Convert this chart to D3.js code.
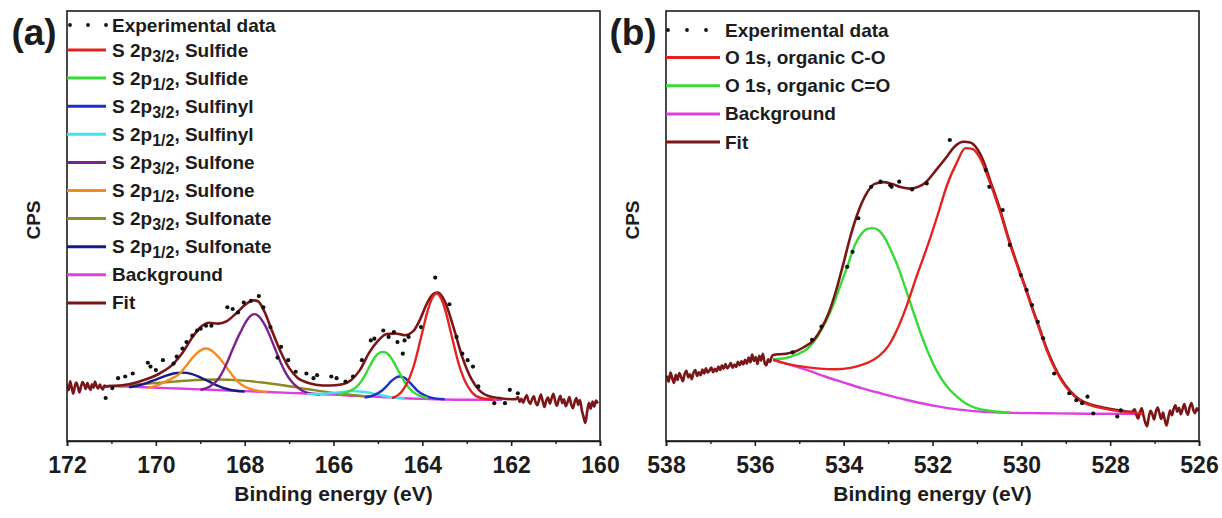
<!DOCTYPE html>
<html>
<head>
<meta charset="utf-8">
<script src="https://cdn.jsdelivr.net/npm/d3@7"></script>
<style>
	body { margin: 0; background: #fff; }
	svg text { font-family: "Liberation Sans", Arial, sans-serif; font-weight: bold; fill: #1c1c1c; }
</style>
</head>
<body>
<div id="vizHolder"></div>
<script>
// ---- panel (a): S 2p, values as [binding energy, counts (arb.)] ----
var ticksA = [172, 170, 168, 166, 164, 162, 160];
var minorA = [171, 169, 167, 165, 163, 161];

var fitA = [
	[172.0,13.1],[171.96,11.8],[171.93,13.9],[171.89,12.2],[171.86,11.0],[171.82,12.9],[171.79,13.6],[171.75,12.4],[171.72,11.3],[171.68,12.8],
	[171.65,13.7],[171.61,13.0],[171.58,12.1],[171.54,13.5],[171.51,12.6],[171.47,11.9],[171.44,13.2],[171.40,12.4],[171.37,13.8],[171.33,12.7],
	[171.30,12.2],[171.26,13.1],[171.23,12.5],[171.19,12.0],[171.16,12.9],[171.12,12.6],[171.05,12.8],[171.0,12.8],
	[170.6,13.2],[170.2,14.4],[169.9,15.8],[169.6,18.0],[169.4,20.5],[169.2,23.8],[169.0,26.4],[168.8,27.5],[168.6,27.3],[168.4,27.9],
	[168.2,29.6],[168.0,31.6],[167.8,32.7],[167.7,32.5],[167.55,30.0],[167.4,26.0],[167.2,21.0],[167.0,17.0],[166.8,14.6],[166.6,13.6],
	[166.4,13.1],[166.1,12.9],[165.8,13.2],[165.6,14.2],[165.4,16.6],[165.2,20.5],[165.0,23.3],[164.8,24.9],[164.6,25.0],[164.4,24.6],
	[164.2,25.6],[164.05,28.3],[163.9,31.9],[163.75,34.2],[163.65,34.5],[163.5,32.6],[163.3,26.5],[163.1,19.5],[162.9,14.5],[162.7,11.6],
	[162.5,10.4],[162.2,9.9],[161.9,9.7],
	[161.85,10.2],[161.81,9.1],[161.77,9.8],[161.73,8.9],[161.69,9.9],[161.65,10.6],[161.61,9.3],[161.57,8.6],[161.53,9.7],[161.49,10.4],
	[161.45,9.0],[161.41,8.3],[161.37,9.6],[161.33,10.8],[161.29,9.2],[161.25,7.9],[161.21,9.4],[161.17,10.1],[161.13,8.7],[161.09,9.9],
	[161.05,11.0],[161.01,9.3],[160.97,8.2],[160.93,9.6],[160.89,10.5],[160.85,8.8],[160.81,9.7],[160.77,8.1],[160.73,9.0],[160.69,10.2],
	[160.65,8.6],[160.61,7.6],[160.57,9.1],[160.53,10.0],[160.49,8.4],[160.45,9.5],[160.41,7.2],[160.37,5.6],[160.33,4.2],[160.29,6.8],
	[160.25,8.9],[160.21,7.5],[160.17,9.2],[160.13,8.0],[160.09,9.4],[160.05,8.7]
];
var bgA = [[171.13,12.8],[170.5,12.6],[170.0,12.4],[169.5,12.2],[169.0,12.0],[168.5,11.8],[168.0,11.6],[167.5,11.4],[167.0,11.2],[166.5,11.0],
	[166.0,10.8],[165.5,10.5],[165.0,10.3],[164.5,10.0],[164.0,9.8],[163.5,9.65],[163.0,9.6],[162.5,9.6],[162.2,9.6]];
var sulfide32 = [[164.68,10.0],[164.48,11.3],[164.28,14.9],[164.18,17.9],[164.08,21.9],[163.98,26.2],[163.88,30.3],[163.78,33.2],[163.68,34.3],
	[163.58,33.2],[163.48,30.3],[163.38,26.2],[163.28,21.9],[163.18,17.9],[163.08,14.9],[162.88,11.3],[162.68,10.0],[162.4,9.6]];
var sulfide12 = [[165.88,10.8],[165.68,11.4],[165.48,12.6],[165.38,13.8],[165.28,15.5],[165.18,17.5],[165.08,19.3],[164.98,20.4],[164.88,20.7],
	[164.78,20.3],[164.68,19.0],[164.58,17.1],[164.48,15.2],[164.38,13.4],[164.28,12.1],[164.08,10.6],[163.88,10.0]];
var sulfinyl32 = [[165.3,10.1],[165.1,10.6],[164.9,11.8],[164.8,12.8],[164.7,13.9],[164.6,14.7],[164.52,15.0],[164.42,14.8],[164.32,14.0],
	[164.22,12.9],[164.12,11.8],[163.92,10.5],[163.72,9.9],[163.5,9.7]];
var sulfinyl12 = [[166.6,10.9],[166.2,11.0],[165.9,11.3],[165.6,11.6],[165.3,11.4],[165.0,10.8],[164.7,10.2],[164.4,9.9]];
var sulfone32 = [[169.0,11.9],[168.78,12.7],[168.58,14.6],[168.48,16.4],[168.38,18.6],[168.28,21.1],[168.18,23.5],[168.08,25.6],[167.98,27.6],
	[167.88,29.0],[167.78,29.5],[167.68,29.0],[167.58,27.6],[167.48,25.6],[167.38,23.1],[167.28,20.5],[167.18,18.0],[167.08,15.9],[166.98,14.3],
	[166.78,12.2],[166.58,11.2],[166.3,10.8]];
var sulfone12 = [[170.2,12.3],[170.07,12.6],[169.87,13.4],[169.67,14.4],[169.47,15.6],[169.37,16.8],[169.27,18.1],[169.17,19.4],[169.07,20.5],
	[168.97,21.2],[168.87,21.5],[168.77,21.2],[168.67,20.4],[168.57,19.3],[168.47,18.0],[168.37,16.6],[168.27,15.2],[168.17,14.0],[168.07,13.1],
	[167.87,12.1],[167.67,11.6],[167.5,11.4]];
var sulfonate32 = [[171.1,12.8],[170.6,13.0],[170.1,13.4],[169.6,13.8],[169.1,14.2],[168.6,14.3],[168.1,14.1],[167.6,13.6],[167.1,12.9],
	[166.6,12.1],[166.1,11.3],[165.7,10.8],[165.3,10.4]];
var sulfonate12 = [[170.6,12.5],[170.4,12.9],[170.2,13.5],[170.0,14.3],[169.8,15.1],[169.6,15.7],[169.4,15.9],[169.2,15.6],[169.0,14.8],
	[168.8,13.8],[168.6,12.8],[168.4,12.1],[168.2,11.7],[168.0,11.5]];
var expA = [[171.13,10.0],[170.98,12.3],[170.85,14.6],[170.69,15.0],[170.52,15.7],[170.18,18.2],[170.12,17.3],[170.0,16.5],[169.84,18.8],
	[169.6,18.0],[169.53,19.6],[169.4,21.5],[169.31,23.0],[169.18,24.5],[169.07,25.7],[168.99,26.1],[168.87,26.8],[168.75,26.8],[168.39,31.1],
	[168.27,30.7],[168.15,29.9],[168.02,32.2],[167.86,32.6],[167.68,33.7],[167.58,31.1],[167.42,26.5],[167.26,19.4],[167.18,21.9],[167.02,18.8],
	[166.85,16.1],[166.61,15.7],[166.45,14.6],[166.37,15.3],[166.05,15.0],[165.93,14.6],[165.73,13.8],[165.56,15.0],[165.36,18.8],[165.16,23.4],
	[165.08,23.8],[164.88,25.7],[164.76,24.2],[164.64,25.3],[164.56,23.0],[164.44,20.3],[164.4,23.4],[164.31,24.2],[164.03,26.5],[163.71,38.0],
	[163.39,31.8],[163.23,24.2],[163.1,20.3],[162.98,18.8],[162.86,17.3],[162.74,12.7],[162.38,8.8],[162.14,8.8],[162.03,11.9],[161.85,11.1]];

// ---- panel (b): O 1s ----
var ticksB = [538, 536, 534, 532, 530, 528, 526];
var minorB = [537, 535, 533, 531, 529, 527];

var fitB = [
	[537.98,15.2],[537.94,13.8],[537.9,15.9],[537.86,14.6],[537.82,13.5],[537.78,15.4],[537.74,14.2],[537.7,15.8],[537.66,14.9],[537.62,13.9],
	[537.58,15.6],[537.54,16.3],[537.5,14.8],[537.46,15.5],[537.42,14.4],[537.38,15.9],[537.34,16.5],[537.3,15.1],[537.26,16.0],[537.22,15.3],
	[537.18,16.6],[537.14,15.7],[537.1,16.9],[537.06,15.9],[537.02,16.4],[536.98,17.1],[536.94,16.0],[536.9,16.8],[536.86,16.2],[536.82,17.3],
	[536.78,16.5],[536.74,17.6],[536.7,16.8],[536.66,17.9],[536.62,16.9],[536.58,17.4],[536.54,18.1],[536.5,17.0],[536.46,17.8],[536.42,17.2],
	[536.38,18.4],[536.34,17.6],[536.3,18.6],[536.26,17.8],[536.22,18.9],[536.18,18.0],[536.14,19.4],[536.1,18.3],[536.06,20.1],[536.02,18.6],
	[535.98,19.5],[535.94,17.9],[535.9,19.8],[535.86,18.7],[535.82,20.3],[535.78,18.2],[535.74,17.6],[535.7,19.0],[535.66,18.4],[535.62,19.6],
	[535.59,20.0],[535.3,20.3],[535.09,20.8],[534.9,21.8],[534.67,23.5],[534.5,26.2],[534.34,29.7],[534.17,35.0],[534.0,41.5],[533.85,47.5],
	[533.7,52.5],[533.5,57.3],[533.3,59.8],[533.1,60.2],[532.92,59.8],[532.7,59.0],[532.5,58.7],[532.3,59.2],[532.17,60.0],[531.92,63.0],
	[531.7,65.8],[531.5,68.5],[531.3,69.6],[531.15,69.4],[531.0,68.0],[530.85,65.0],[530.7,60.5],[530.5,54.5],[530.3,47.5],[530.1,41.3],
	[529.9,35.5],[529.76,31.2],[529.6,26.5],[529.42,21.2],[529.25,17.2],[529.09,14.2],[528.9,11.6],[528.67,9.5],[528.4,8.4],[528.17,7.8],
	[527.85,7.2],[527.51,6.8],
	[527.45,7.4],[527.41,6.1],[527.37,5.2],[527.33,6.7],[527.29,7.6],[527.25,5.9],[527.21,4.3],[527.17,3.4],[527.13,5.6],[527.09,7.0],
	[527.05,6.2],[527.01,5.0],[526.97,6.9],[526.93,7.8],[526.89,6.4],[526.85,5.1],[526.81,6.6],[526.77,4.9],[526.73,3.6],[526.69,5.5],
	[526.65,7.1],[526.61,6.0],[526.57,7.5],[526.53,8.3],[526.49,6.8],[526.45,7.7],[526.41,6.2],[526.37,7.4],[526.33,8.6],[526.29,7.0],
	[526.25,6.1],[526.21,7.9],[526.17,8.8],[526.13,7.3],[526.09,6.5],[526.05,7.6],[526.01,6.9]
];
var bgB = [[535.59,18.8],[535.2,17.7],[534.8,16.4],[534.42,15.0],[534.0,13.6],[533.6,12.3],[533.17,11.1],[532.6,9.6],[531.92,8.1],
	[531.4,7.3],[530.84,6.8],[530.2,6.55],[529.5,6.45],[528.5,6.35],[527.26,6.3]];
var organicCO = [[535.59,18.9],[535.3,18.0],[535.0,17.4],[534.6,16.9],[534.17,16.7],[533.85,17.0],[533.59,17.7],[533.4,18.5],[533.2,19.8],
	[533.0,22.0],[532.8,25.8],[532.59,31.2],[532.35,38.5],[532.09,46.0],[531.87,53.0],[531.67,59.6],[531.45,64.8],[531.26,68.1],[531.1,67.9],[530.92,65.6],
	[530.75,61.3],[530.5,54.0],[530.3,47.2],[530.1,41.0],[529.9,35.2],[529.76,30.9],[529.6,26.2],[529.42,20.9],[529.25,16.9],[529.09,14.0],
	[528.9,11.4],[528.67,9.3],[528.4,8.2],[528.17,7.6],[527.85,7.0],[527.51,6.6],[527.26,6.4]];
var organicCdO = [[535.59,19.0],[535.3,19.3],[535.09,20.0],[534.8,21.6],[534.59,24.3],[534.4,27.8],[534.25,31.2],[534.08,36.0],[533.92,40.5],
	[533.75,45.5],[533.59,48.3],[533.45,49.4],[533.34,49.5],[533.2,48.9],[533.09,47.5],[532.92,44.0],[532.75,39.8],[532.58,34.6],[532.42,29.7],
	[532.25,24.6],[532.09,20.4],[531.9,16.2],[531.67,12.6],[531.45,10.3],[531.26,8.8],[531.0,7.6],[530.76,7.1],[530.5,6.8],[530.26,6.6]];
var expB = [[535.15,20.6],[534.71,23.5],[534.5,26.6],[533.92,40.5],[533.8,44.0],[533.67,51.8],[533.38,59.1],[533.17,60.3],[532.95,59.5],
	[532.92,59.1],[532.75,60.3],[532.46,58.5],[532.13,59.9],[531.61,70.0],[530.8,63.0],[530.72,59.1],[530.42,53.7],[530.26,45.6],[530.01,38.6],
	[529.88,35.1],[529.76,31.6],[529.63,27.7],[529.51,23.9],[529.26,15.7],[528.92,11.1],[528.76,9.5],[528.63,8.8],[528.51,10.3],[528.38,6.4],
	[527.84,5.7],[527.76,7.1]];

var width = 1222, height = 518, plotTop = 11, plotBottom = 441;
var colors = {
	fit: '#7a1518', red: '#e3231f', green: '#35dc35', blue: '#1f2dcc', cyan: '#3ee3ef',
	purple: '#7a2290', orange: '#f28c1e', olive: '#8c8a22', navy: '#181a86', magenta: '#df3fe0'
};

var svg = d3.select('#vizHolder').append('svg')
	.attr('width', width)
	.attr('height', height);

function drawPanel(p) {
	var xScale = d3.scaleLinear().domain(p.domain).range([p.left, p.right]);
	var yScale = d3.scaleLinear().domain([0, 100]).range([plotBottom, plotTop]);
	var g = svg.append('g');

	var clipId = 'clip' + p.id;
	g.append('clipPath').attr('id', clipId).append('rect')
		.attr('x', p.left).attr('y', plotTop).attr('width', p.right - p.left).attr('height', plotBottom - plotTop);

	var line = d3.line()
		.x(function(d) { return xScale(d[0]); })
		.y(function(d) { return yScale(d[1]); })
		.curve(d3.curveMonotoneX);

	var plot = g.append('g').attr('clip-path', 'url(#' + clipId + ')');
	p.series.forEach(function(s) {
		plot.append('path')
			.attr('d', line(s.data))
			.attr('fill', 'none')
			.attr('stroke', s.color)
			.attr('stroke-width', s.w || 2.4)
			.attr('stroke-linejoin', 'round');
	});
	plot.selectAll('circle.exp')
		.data(p.dots)
		.enter()
		.append('circle')
		.attr('class', 'exp')
		.attr('r', 2.1)
		.attr('cx', function(d) { return xScale(d[0]); })
		.attr('cy', function(d) { return yScale(d[1]); })
		.attr('fill', '#111');

	// frame
	g.append('rect')
		.attr('x', p.left).attr('y', plotTop)
		.attr('width', p.right - p.left).attr('height', plotBottom - plotTop)
		.attr('fill', 'none').attr('stroke', '#1c1c1c').attr('stroke-width', 1.6);

	// x axis, major + minor ticks
	var ax = g.append('g')
		.attr('transform', 'translate(0,' + plotBottom + ')')
		.call(d3.axisBottom(xScale).tickValues(p.ticks).tickSize(5).tickPadding(11).tickFormat(d3.format('d')));
	ax.select('.domain').attr('stroke', '#1c1c1c').attr('stroke-width', 1.6);
	ax.selectAll('.tick line').attr('stroke', '#1c1c1c').attr('stroke-width', 1.6);
	ax.selectAll('.tick text').attr('font-size', 23).attr('fill', '#1c1c1c')
		.style('font-family', '"Liberation Sans", Arial, sans-serif').style('font-weight', 'bold');
	g.append('g').attr('transform', 'translate(0,' + plotBottom + ')')
		.call(d3.axisBottom(xScale).tickValues(p.minor).tickSize(3).tickFormat(''))
		.call(function(s) { s.select('.domain').remove(); })
		.selectAll('.tick line').attr('stroke', '#1c1c1c').attr('stroke-width', 1.4);

	g.append('text')
		.attr('x', (p.left + p.right) / 2).attr('y', 501)
		.attr('text-anchor', 'middle').attr('font-size', 21)
		.text('Binding energy (eV)');

	g.append('text')
		.attr('transform', 'translate(' + (p.left - 27) + ',' + 220 + ') rotate(-90)')
		.attr('text-anchor', 'middle').attr('font-size', 19)
		.text('CPS');

	g.append('text')
		.attr('x', p.left - 33).attr('y', 45)
		.attr('text-anchor', 'middle').attr('font-size', 37)
		.text(p.label);

	// legend
	var lg = g.append('g');
	p.dotX.forEach(function(dx) {
		lg.append('circle').attr('cx', dx).attr('cy', p.legendY[0]).attr('r', 1.9).attr('fill', '#111');
	});
	p.legend.forEach(function(item, i) {
		var cy = p.legendY[i];
		if (item.color) {
			lg.append('line')
				.attr('x1', p.left).attr('x2', p.lineEnd)
				.attr('y1', cy).attr('y2', cy)
				.attr('stroke', item.color).attr('stroke-width', 3);
		}
		var t = lg.append('text').attr('x', p.textX).attr('y', cy + 6.5).attr('font-size', 19);
		if (item.sub) {
			t.append('tspan').text(item.pre);
			t.append('tspan').attr('font-size', 16).attr('dy', 5).text(item.sub);
			t.append('tspan').attr('dy', -5).text(item.post);
		} else {
			t.text(item.text);
		}
	});
}

var rowsA = [25];
for (var i = 0; i < 10; i++) rowsA.push(50 + 28.1 * i);
var rowsB = [30];
for (var j = 0; j < 4; j++) rowsB.push(57.5 + 28.2 * j);

drawPanel({
	id: 'a', label: '(a)', left: 67, right: 600, domain: [172, 160],
	ticks: ticksA, minor: minorA,
	series: [
		{ data: bgA, color: colors.magenta },
		{ data: sulfonate32, color: colors.olive },
		{ data: sulfonate12, color: colors.navy },
		{ data: sulfone12, color: colors.orange },
		{ data: sulfone32, color: colors.purple },
		{ data: sulfinyl12, color: colors.cyan },
		{ data: sulfinyl32, color: colors.blue },
		{ data: sulfide12, color: colors.green },
		{ data: fitA, color: colors.fit, w: 2.6 },
		{ data: sulfide32, color: colors.red }
	],
	dots: expA,
	dotX: [70, 88, 106], lineEnd: 106, textX: 112, legendY: rowsA,
	legend: [
		{ text: 'Experimental data' },
		{ pre: 'S 2p', sub: '3/2', post: ', Sulfide', color: colors.red },
		{ pre: 'S 2p', sub: '1/2', post: ', Sulfide', color: colors.green },
		{ pre: 'S 2p', sub: '3/2', post: ', Sulfinyl', color: colors.blue },
		{ pre: 'S 2p', sub: '1/2', post: ', Sulfinyl', color: colors.cyan },
		{ pre: 'S 2p', sub: '3/2', post: ', Sulfone', color: colors.purple },
		{ pre: 'S 2p', sub: '1/2', post: ', Sulfone', color: colors.orange },
		{ pre: 'S 2p', sub: '3/2', post: ', Sulfonate', color: colors.olive },
		{ pre: 'S 2p', sub: '1/2', post: ', Sulfonate', color: colors.navy },
		{ text: 'Background', color: colors.magenta },
		{ text: 'Fit', color: colors.fit }
	]
});

drawPanel({
	id: 'b', label: '(b)', left: 666, right: 1199, domain: [538, 526],
	ticks: ticksB, minor: minorB,
	series: [
		{ data: bgB, color: colors.magenta },
		{ data: organicCdO, color: colors.green },
		{ data: fitB, color: colors.fit, w: 2.6 },
		{ data: organicCO, color: colors.red }
	],
	dots: expB,
	dotX: [668, 687, 706], lineEnd: 720, textX: 725, legendY: rowsB,
	legend: [
		{ text: 'Experimental data' },
		{ text: 'O 1s, organic C-O', color: colors.red },
		{ text: 'O 1s, organic C=O', color: colors.green },
		{ text: 'Background', color: colors.magenta },
		{ text: 'Fit', color: colors.fit }
	]
});
</script>
</body>
</html>
